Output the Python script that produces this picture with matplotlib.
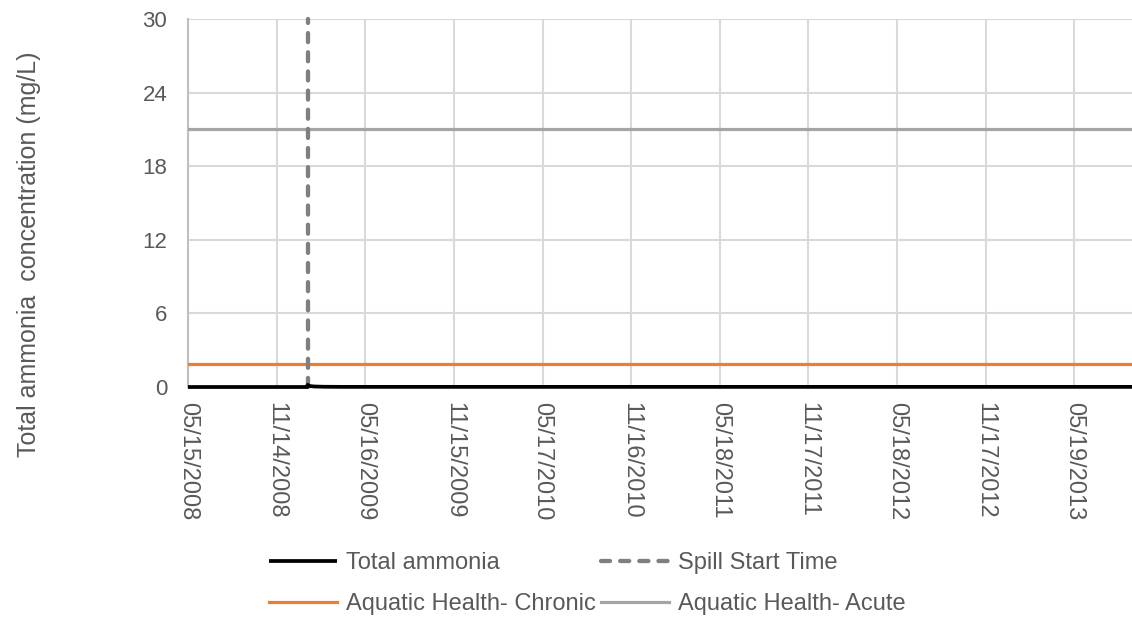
import pandas as pd
import matplotlib.pyplot as plt
from matplotlib.font_manager import FontProperties


# total ammonia series (mg/L)
amm_dates = ['2008-05-15', '2009-01-16', '2009-01-17', '2009-01-19', '2009-01-23',
             '2009-02-01', '2009-02-20', '2009-04-01', '2013-09-15']
amm_vals = [0.0, 0.0, 0.18, 0.12, 0.07, 0.04, 0.02, 0.01, 0.01]

spill_date = '2009-01-17'
chronic_val = 1.87
acute_val = 21.0
x_start = '2008-05-15'
x_end = '2013-09-15'

tick_labels = ['05/15/2008', '11/14/2008', '05/16/2009', '11/15/2009', '05/17/2010',
               '11/16/2010', '05/18/2011', '11/17/2011', '05/18/2012', '11/17/2012',
               '05/19/2013']
y_ticks = [0, 6, 12, 18, 24, 30]


def main():
    txt = '#595959'
    fig = plt.figure(figsize=(11.32, 6.21), dpi=100)
    ax = fig.add_axes([0.1661, 0.3768, 0.8339, 0.5926])

    d = pd.to_datetime(amm_dates)
    x0 = pd.Timestamp(x_start)
    x1 = pd.Timestamp(x_end)
    sp = pd.Timestamp(spill_date)

    l_amm, = ax.plot(d, amm_vals, color='black', lw=2.7, zorder=5, clip_on=False,
                     solid_capstyle='butt', label='Total ammonia')
    l_chr, = ax.plot([x0, x1], [chronic_val, chronic_val], color='#ED7D31', lw=2.3,
                     zorder=3, label='Aquatic Health- Chronic')
    l_spill, = ax.plot([sp, sp], [0, 30], color='#7F7F7F', lw=3.1, zorder=4,
                       dashes=(2.1, 2.35), dash_capstyle='round', clip_on=False,
                       label='Spill Start Time')
    l_ac, = ax.plot([x0, x1], [acute_val, acute_val], color='#A5A5A5', lw=2.3,
                    zorder=3, label='Aquatic Health- Acute')

    ticks = pd.to_datetime(tick_labels, format='%m/%d/%Y')
    ax.set_xticks(ticks)
    ax.set_xticklabels(tick_labels, rotation=-90, ha='center', va='top',
                       fontsize=17, color=txt, family='Liberation Sans')
    ax.set_xlim(x0, x1)
    ax.set_ylim(0, 30)
    ax.set_yticks(y_ticks)
    ax.set_yticklabels([str(v) for v in y_ticks], fontsize=16, color=txt,
                       family='Liberation Sans')
    ax.tick_params(axis='both', length=0)
    ax.tick_params(axis='x', pad=11)
    ax.tick_params(axis='y', pad=15)

    ax.grid(True, color='#D9D9D9', lw=1.5)
    ax.set_axisbelow(True)
    for s in ['top', 'right', 'bottom']:
        ax.spines[s].set_visible(False)
    ax.spines['left'].set_color('#BFBFBF')
    ax.spines['left'].set_linewidth(1.5)

    fig.text(0.026, 1 - 254.5 / 621, 'Total ammonia  concentration (mg/L)',
             rotation=90, ha='center', va='center', fontsize=18, color=txt,
             family='Liberation Sans')

    prop = FontProperties(family='Liberation Sans', size=17)
    leg = fig.legend([l_amm, l_chr, l_spill, l_ac],
                     [l_amm.get_label(), l_chr.get_label(), l_spill.get_label(), l_ac.get_label()],
                     loc='center', bbox_to_anchor=(0.519, 0.06), ncol=2, frameon=False,
                     prop=prop, handlelength=2.88, handletextpad=0.38, columnspacing=0.2,
                     labelspacing=0.81, borderpad=0)
    for t in leg.get_texts():
        t.set_color(txt)

    fig.savefig('out.png', dpi=100)


main()
